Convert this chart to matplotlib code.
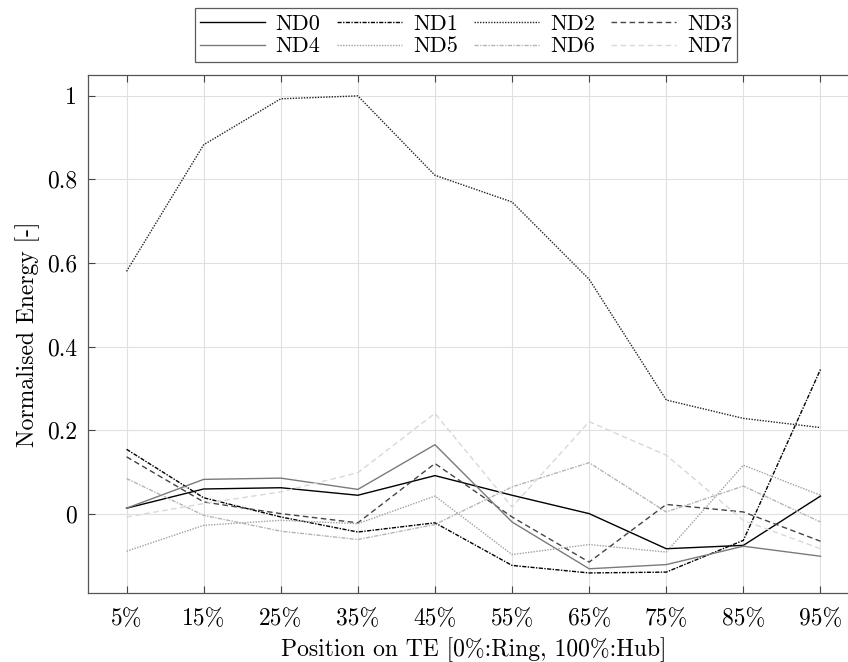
import matplotlib
matplotlib.use("Agg")
import matplotlib.pyplot as plt

plt.rcParams["font.family"] = "serif"
plt.rcParams["font.serif"] = ["cmr10"]
plt.rcParams["mathtext.fontset"] = "cm"
plt.rcParams["axes.formatter.use_mathtext"] = True

# Data
positions = ["5%", "15%", "25%", "35%", "45%", "55%", "65%", "75%", "85%", "95%"]
nd0 = [0.013, 0.059, 0.062, 0.044, 0.091, 0.044, 0.000, -0.084, -0.076, 0.042]
nd1 = [0.154, 0.038, -0.008, -0.044, -0.022, -0.124, -0.142, -0.140, -0.064, 0.345]
nd2 = [0.580, 0.883, 0.993, 1.000, 0.810, 0.746, 0.561, 0.272, 0.228, 0.206]
nd3 = [0.136, 0.028, 0.000, -0.022, 0.120, -0.008, -0.116, 0.022, 0.004, -0.066]
nd4 = [0.013, 0.082, 0.085, 0.058, 0.165, -0.020, -0.132, -0.122, -0.078, -0.102]
nd5 = [-0.090, -0.028, -0.016, -0.024, 0.042, -0.098, -0.074, -0.092, 0.116, 0.044]
nd6 = [0.084, -0.004, -0.042, -0.062, -0.026, 0.064, 0.122, 0.004, 0.066, -0.020]
nd7 = [-0.008, 0.024, 0.052, 0.098, 0.240, 0.016, 0.220, 0.140, -0.016, -0.084]

series = [nd0, nd1, nd2, nd3, nd4, nd5, nd6, nd7]
names = ["ND0", "ND1", "ND2", "ND3", "ND4", "ND5", "ND6", "ND7"]
colors = ["#000000", "#000000", "#222222", "#444444",
          "#7a7a7a", "#a0a0a0", "#b4b4b4", "#d8d8d8"]
styles = ["-", (0, (3, 1, 1, 1)), (0, (1, 1)), (0, (4, 2.5)),
          "-", (0, (1, 1)), (0, (3, 1, 1, 1)), (0, (4, 2.5))]

fig = plt.figure(figsize=(8.48, 6.62), dpi=100)
ax = fig.add_axes([88 / 848, 69 / 662, 771 / 848, 518 / 662])

x = range(1, len(positions) + 1)
lines = []
for y, name, c, ls in zip(series, names, colors, styles):
    ln, = ax.plot(x, y, color=c, linestyle=ls, linewidth=1.0, label=name)
    lines.append(ln)

ax.set_xlim(0.5, 10.5)
ax.set_ylim(-0.19, 1.05)
ax.set_xticks(list(x))
ax.set_xticklabels(positions)
ax.set_yticks([0, 0.2, 0.4, 0.6, 0.8, 1.0])
ax.set_yticklabels(["0", "0.2", "0.4", "0.6", "0.8", "1"])
ax.tick_params(direction="in", top=True, right=True, labelsize=17,
               length=5, width=0.8, color="#444444", pad=8)
ax.tick_params(axis="x", pad=11)
ax.grid(True, color="#e0e0e0", linewidth=0.8)
ax.set_axisbelow(True)
for s in ax.spines.values():
    s.set_color("#555555")
    s.set_linewidth(0.9)

ax.set_xlabel("Position on TE [0%:Ring, 100%:Hub]", fontsize=17, labelpad=5)
ax.set_ylabel("Normalised Energy [-]", fontsize=17, labelpad=5)

# legend fills row by row: reorder for matplotlib's column-wise filling
order = [0, 4, 1, 5, 2, 6, 3, 7]
leg = ax.legend([lines[i] for i in order], [names[i] for i in order],
                ncol=4, loc="lower center",
                bbox_to_anchor=((466 - 88) / 771, 1.025),
                fontsize=16, frameon=True, fancybox=False, edgecolor="#333333",
                handlelength=2.9, columnspacing=0.75, borderpad=0.25,
                labelspacing=0.15, handletextpad=0.5, borderaxespad=0)
leg.get_frame().set_linewidth(0.9)

fig.savefig("out.png", dpi=100)
